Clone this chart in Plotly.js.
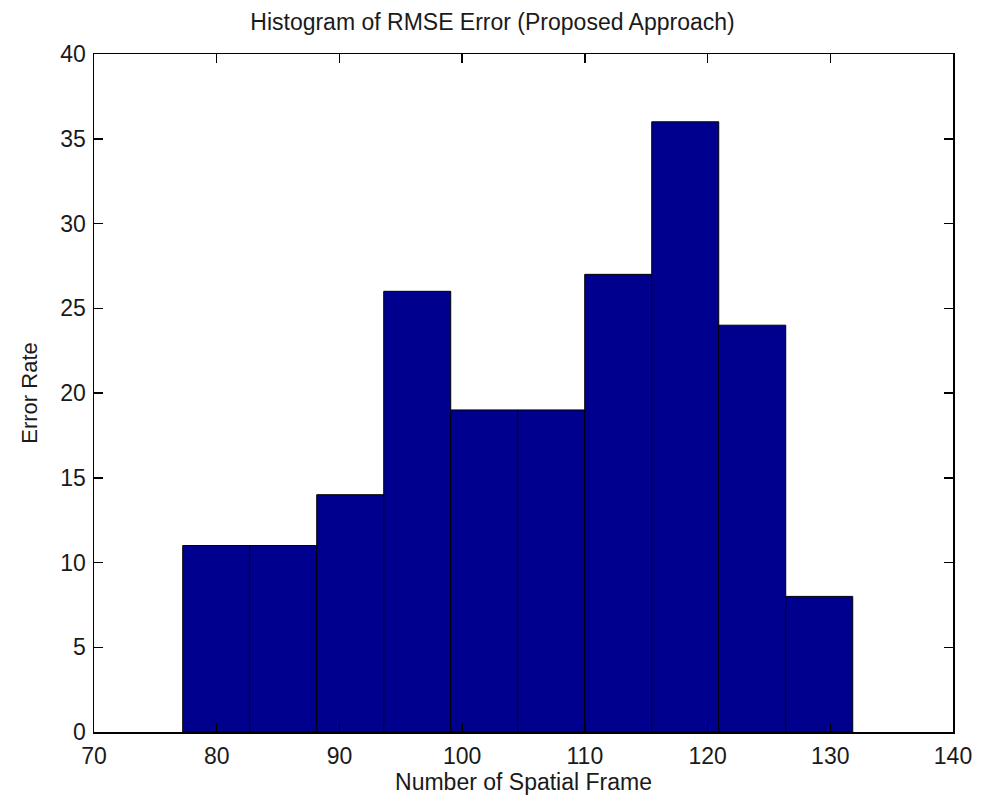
<!DOCTYPE html>
<html>
<head>
<meta charset="utf-8">
<script src="https://cdn.plot.ly/plotly-3.0.1.min.js"></script>
<style>html,body{margin:0;padding:0;background:#fff;}#chart{width:985px;height:804px;}</style>
</head>
<body>
<div id="chart"></div>
<script>
const binCenters = [79.96, 85.42, 90.88, 96.34, 101.80, 107.26, 112.72, 118.18, 123.64, 129.10];
const binWidth = 5.46;
const counts = [11, 11, 14, 26, 19, 19, 27, 36, 24, 8];
const xTicks = [70, 80, 90, 100, 110, 120, 130, 140];
const yTicks = [0, 5, 10, 15, 20, 25, 30, 35, 40];

const font = "'Liberation Sans', Arial, sans-serif";
const textColor = '#1a1a1a';
const trace = {
  type: 'bar',
  x: binCenters,
  y: counts,
  width: binCenters.map(() => binWidth),
  marker: {color: '#00008F', line: {color: '#000000', width: 1}},
  hoverinfo: 'x+y'
};
const axisCommon = {
  showgrid: false, zeroline: false, showline: true, mirror: 'ticks',
  linecolor: '#000', linewidth: 1.5, ticks: 'inside', ticklen: 9, tickcolor: '#000', tickwidth: 1.5,
  tickfont: {family: font, size: 23, color: textColor}
};
const layout = {
  width: 985, height: 804,
  margin: {l: 94, r: 32, t: 54, b: 72},
  paper_bgcolor: '#fff', plot_bgcolor: '#fff',
  bargap: 0,
  showlegend: false,
  title: {text: 'Histogram of RMSE Error (Proposed Approach)', font: {family: font, size: 23, color: textColor}, x: 0.5, xanchor: 'center', y: 0.973, yanchor: 'middle'},
  xaxis: Object.assign({}, axisCommon, {
    range: [70, 140], tickvals: xTicks, ticktext: xTicks.map(String), ticklabelstandoff: 3,
    title: {text: 'Number of Spatial Frame', font: {family: font, size: 23, color: textColor}, standoff: 4}
  }),
  yaxis: Object.assign({}, axisCommon, {
    range: [0, 40], tickvals: yTicks, ticktext: yTicks.map(String), ticklabelstandoff: 2,
    title: {text: 'Error Rate', font: {family: font, size: 22, color: textColor}, standoff: 16}
  })
};
Plotly.newPlot('chart', [trace], layout, {displayModeBar: false, staticPlot: true});
</script>
</body>
</html>
